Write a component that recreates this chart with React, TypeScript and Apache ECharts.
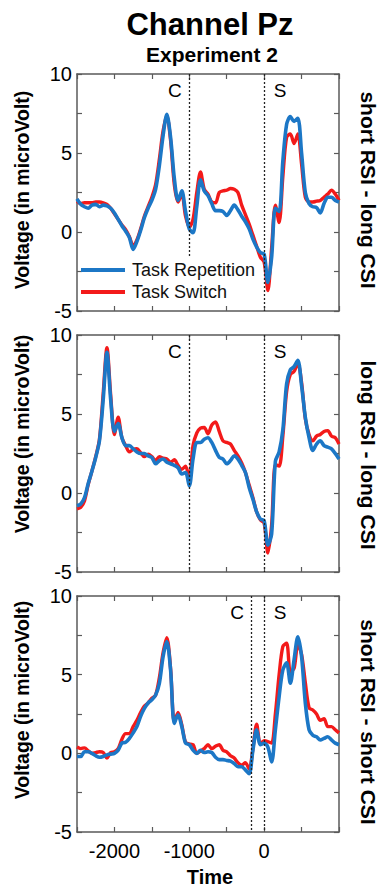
import React, { useEffect, useRef } from "react";
import * as echarts from "echarts";

// time axis (ms)
const times = [
  -2500, -2450, -2400, -2350, -2300, -2250, -2200, -2150, -2100, -2050,
  -2000, -1950, -1900, -1850, -1800, -1750, -1700, -1650, -1600, -1550,
  -1500, -1450, -1400, -1350, -1300, -1250, -1200, -1150, -1100, -1050,
  -1000, -950, -900, -850, -800, -750, -700, -650, -600, -550,
  -500, -450, -400, -350, -300, -250, -200, -150, -100, -50,
  0, 50, 100, 150, 200, 250, 300, 350, 400, 450,
  500, 550, 600, 650, 700, 750, 800, 850, 900, 950,
  1000,
];

// Panel 1: short RSI - long CSI
const p1Rep = [
  2.1, 1.75, 1.6, 1.5, 1.7, 1.75, 1.6, 1.7, 1.65, 1.5,
  1.2, 0.8, 0.4, 0.05, -0.35, -1.1, -0.6, 0.1, 0.9, 1.5,
  2.0, 2.7, 4.2, 6.1, 7.45, 6.0, 3.4, 2.0, 2.6, 1.3,
  0.2, -0.05, 1.6, 3.3, 2.6, 2.3, 1.8, 1.35, 1.35, 1.3,
  1.05, 1.35, 1.7, 1.4, 1.0, 0.65, 0.2, -0.45, -0.95, -1.3,
  -1.4, -3.2, -1.6, 1.5, 1.3, 4.5, 6.8, 7.3, 7.0, 7.2,
  5.0, 2.5, 1.8, 1.6, 1.55, 1.2, 1.8, 2.2, 2.2, 2.0,
  1.9,
];
const p1Sw = [
  1.95, 1.8, 1.85, 1.85, 1.85, 1.9, 1.9, 1.85, 1.75, 1.5,
  1.15, 0.8, 0.45, 0.15, -0.3, -0.85, -0.5, 0.2, 1.0, 1.6,
  2.2, 3.0, 4.6, 6.4, 7.35, 5.8, 3.0, 1.9, 2.4, 1.0,
  0.3, 0.8, 2.5, 3.8, 2.7, 2.4, 1.9, 1.85, 2.5, 2.6,
  2.65, 2.75, 2.7, 2.5, 1.7, 1.1, 0.5, -0.2, -0.9, -1.6,
  -1.9, -3.7, -1.0, 1.7, 0.6, 3.5, 6.0, 6.2, 5.6, 6.2,
  4.3, 2.2, 1.9, 1.9, 1.95, 2.0, 2.2, 2.4, 2.65, 2.4,
  2.0,
];

// Panel 2: long RSI - long CSI
const p2Rep = [
  -0.8, -0.7, -0.3, 0.6, 1.4, 2.25, 3.3, 5.9, 8.9, 5.9,
  3.9, 4.4, 3.5, 3.0, 3.0, 2.8, 2.6, 2.5, 2.5, 2.35,
  2.25, 1.85, 2.05, 2.15, 1.95, 1.85, 1.75, 1.6, 1.2, 1.3,
  0.45, 2.15, 3.2, 3.2, 3.4, 3.5, 3.2, 2.7, 2.25, 2.15,
  1.85, 2.05, 2.35, 2.15, 1.75, 1.3, 0.35, -0.4, -1.2, -1.65,
  -1.75, -3.3, -2.6, 2.0, 2.6, 4.0, 6.9, 7.8, 8.0, 8.4,
  6.8, 4.8, 3.5, 2.7, 3.1, 3.3, 3.0, 2.9, 2.8, 2.5,
  2.15,
];
const p2Sw = [
  -1.0, -0.9, -0.5, 0.55, 1.4, 2.3, 3.4, 6.3, 9.2, 6.2,
  3.7, 4.8, 3.5, 3.0, 2.6, 2.75, 2.8, 2.55, 2.3, 2.45,
  2.3, 2.05, 2.3, 2.2, 2.15, 1.95, 2.1, 1.75, 1.5, 1.7,
  0.9, 3.0, 3.8, 4.1, 4.15, 3.75, 4.3, 4.5, 3.9, 3.3,
  3.2, 3.1, 2.7, 2.35, 1.9, 1.3, 0.5, -0.3, -1.2, -1.7,
  -1.9, -3.8, -2.0, 1.8, 1.7, 3.6, 6.4, 7.5, 7.7, 8.2,
  7.0, 4.7, 3.7, 3.3, 3.6, 3.7, 3.9, 3.95, 3.6, 3.5,
  3.1,
];

// Panel 3: short RSI - short CSI
const p3Rep = [
  -0.2, -0.2, 0.1, 0.1, 0.0, -0.15, -0.25, -0.2, -0.1, -0.05,
  0.0, 0.2, 0.65, 0.7, 0.95, 1.3, 1.7, 2.35, 2.85, 3.2,
  3.4, 3.7, 4.45, 6.15, 7.1, 5.3, 1.9, 2.45, 1.7, 0.65,
  0.55, 0.2, 0.0, 0.2, 0.05, 0.1, 0.05, -0.25, -0.4, -0.4,
  -0.45, -0.5, -0.65, -0.85, -0.85, -1.05, -1.3, 0.2, 1.5, 0.55,
  0.65, 0.4, -0.55, 1.5, 3.6, 5.3, 5.75, 4.45, 5.95, 7.4,
  6.15, 3.2, 1.5, 1.15, 1.05, 0.85, 0.95, 1.05, 0.85, 0.65,
  0.55,
];
const p3Sw = [
  0.4, 0.3, 0.35, 0.15, 0.0, 0.05, 0.1, 0.05, -0.3, 0.05,
  0.1, 0.3, 0.9, 1.25, 1.25, 1.7, 2.1, 2.6, 3.0, 3.2,
  3.5, 3.7, 4.8, 6.4, 7.35, 5.4, 2.0, 2.6, 1.8, 0.7,
  0.6, 0.55, 0.0, 0.15, 0.3, 0.55, 0.3, 0.45, 0.55, 0.2,
  0.1, -0.15, -0.3, -0.6, -0.75, -0.6, -1.0, 0.3, 1.85, 0.6,
  0.8, 0.75, 0.65, 2.5, 5.0, 6.8, 7.0, 5.2, 5.4, 6.9,
  6.3, 4.5, 2.9, 2.75, 2.5, 2.1, 2.2, 1.7, 1.7, 1.5,
  1.3,
];

const repSeries = [p1Rep, p2Rep, p3Rep];
const swSeries = [p1Sw, p2Sw, p3Sw];
const panelLabels = ["short RSI - long CSI", "long RSI - long CSI", "short RSI - short CSI"];
const cueTimes = [-1000, -1000, -170];
const cueLineBottom = [-1.6, -5, -5];
const stimTime = 0;
const xTickLabels = [-2000, -1000, 0];
const yTickLabels = [-5, 0, 5, 10];
const legendNames = ["Task Repetition", "Task Switch"];
const titleText = "Channel Pz";
const subtitleText = "Experiment 2";
const yAxisTitle = "Voltage (in microVolt)";
const xAxisTitle = "Time";

const FONT = "'Liberation Sans', Arial, Helvetica, sans-serif";
const BLUE = "#1c77c6";
const RED = "#f31a1a";
const AXIS = "#5a5a5a";

const gridBoxes = [
  { top: 74, height: 237 },
  { top: 335, height: 237 },
  { top: 596, height: 236 },
];
const yLabelCenters = [190, 434, 700];
const rightLabelCenters = [190, 455, 722];

export default function App() {
  const ref = useRef<HTMLDivElement>(null);

  useEffect(() => {
    if (!ref.current) return;
    const chart = echarts.init(ref.current, null, { renderer: "svg" });

    const grids: any[] = [];
    const xAxes: any[] = [];
    const yAxes: any[] = [];
    const series: any[] = [];
    const graphics: any[] = [];

    gridBoxes.forEach((g, i) => {
      grids.push({ left: 77, width: 262, top: g.top, height: g.height, containLabel: false, outerBoundsMode: "none" });
      const axisLine = { show: true, onZero: false, lineStyle: { color: AXIS, width: 1.5 } };
      const axisTick = { show: true, inside: true, length: 5, lineStyle: { color: AXIS, width: 1.2 } };
      const baseX = {
        type: "value",
        gridIndex: i,
        min: -2500,
        max: 1000,
        interval: 500,
        splitLine: { show: false },
        axisLine,
        axisTick,
      };
      xAxes.push({
        ...baseX,
        position: "bottom",
        axisLabel: {
          show: i === 2,
          margin: 9,
          color: "#000",
          fontSize: 20,
          fontFamily: FONT,
          formatter: (v: number) => (xTickLabels.includes(v) ? String(v) : ""),
        },
      });
      xAxes.push({ ...baseX, position: "top", axisLabel: { show: false } });
      const baseY = {
        type: "value",
        gridIndex: i,
        min: -5,
        max: 10,
        interval: 2.5,
        splitLine: { show: false },
        axisLine,
        axisTick,
      };
      yAxes.push({
        ...baseY,
        position: "left",
        axisLabel: {
          show: true,
          margin: 5,
          color: "#000",
          fontSize: 20,
          fontFamily: FONT,
          formatter: (v: number) => (yTickLabels.includes(v) ? String(v) : ""),
        },
      });
      yAxes.push({ ...baseY, position: "right", axisLabel: { show: false } });

      const markLine = {
        silent: true,
        symbol: ["none", "none"],
        label: { show: false },
        lineStyle: { color: "#222", width: 1.3, type: [2, 2] },
        data: [
          [{ coord: [cueTimes[i], 10] }, { coord: [cueTimes[i], cueLineBottom[i]] }],
          [{ coord: [stimTime, 10] }, { coord: [stimTime, -5] }],
        ],
      };
      const markPoint = {
        silent: true,
        symbol: "circle",
        symbolSize: 1,
        itemStyle: { color: "rgba(0,0,0,0)" },
        data: [
          {
            coord: [cueTimes[i], 8.95],
            label: { show: true, formatter: "C", position: "left", distance: 7, color: "#000", fontSize: 19, fontFamily: FONT },
          },
          {
            coord: [stimTime, 8.95],
            label: { show: true, formatter: "S", position: "right", distance: 9, color: "#000", fontSize: 19, fontFamily: FONT },
          },
        ],
      };

      series.push({
        name: legendNames[1],
        type: "line",
        xAxisIndex: 2 * i,
        yAxisIndex: 2 * i,
        data: times.map((t, k) => [t, swSeries[i][k]]),
        showSymbol: false,
        symbol: "none",
        smooth: 0.3,
        lineStyle: { color: RED, width: 3.4 },
        itemStyle: { color: RED },
        markLine,
        markPoint,
        z: 2,
      });
      series.push({
        name: legendNames[0],
        type: "line",
        xAxisIndex: 2 * i,
        yAxisIndex: 2 * i,
        data: times.map((t, k) => [t, repSeries[i][k]]),
        showSymbol: false,
        symbol: "none",
        smooth: 0.3,
        lineStyle: { color: BLUE, width: 3.6 },
        itemStyle: { color: BLUE },
        z: 3,
      });

      graphics.push({
        type: "text",
        x: 22,
        y: yLabelCenters[i],
        rotation: Math.PI / 2,
        style: {
          text: yAxisTitle,
          align: "center",
          verticalAlign: "middle",
          fontSize: 19.5,
          fontWeight: "bold",
          fontFamily: FONT,
          fill: "#000",
        },
      });
      graphics.push({
        type: "text",
        x: 368,
        y: rightLabelCenters[i],
        rotation: -Math.PI / 2,
        style: {
          text: panelLabels[i],
          align: "center",
          verticalAlign: "middle",
          fontSize: 21,
          fontWeight: "bold",
          fontFamily: FONT,
          fill: "#000",
        },
      });
    });

    graphics.push({
      type: "text",
      x: 210,
      y: 24,
      style: { text: titleText, align: "center", verticalAlign: "middle", fontSize: 31, fontWeight: "bold", fontFamily: FONT, fill: "#000" },
    });
    graphics.push({
      type: "text",
      x: 212,
      y: 54,
      style: { text: subtitleText, align: "center", verticalAlign: "middle", fontSize: 21, fontWeight: "bold", fontFamily: FONT, fill: "#000" },
    });
    graphics.push({
      type: "text",
      x: 210,
      y: 877,
      style: { text: xAxisTitle, align: "center", verticalAlign: "middle", fontSize: 20, fontWeight: "bold", fontFamily: FONT, fill: "#000" },
    });

    chart.setOption({
      animation: false,
      backgroundColor: "#fff",
      grid: grids,
      xAxis: xAxes,
      yAxis: yAxes,
      series,
      legend: {
        data: legendNames,
        orient: "vertical",
        left: 81,
        top: 261,
        padding: 0,
        icon: "rect",
        itemWidth: 44,
        itemHeight: 4,
        itemGap: 4,
        selectedMode: false,
        textStyle: { fontSize: 18, lineHeight: 18, fontFamily: FONT, color: "#111", padding: [0, 0, 0, 2] },
      },
      graphic: graphics,
    });

    return () => chart.dispose();
  }, []);

  return (
    <div
      ref={ref}
      style={{ position: "absolute", left: 0, top: 0, width: 382, height: 890, background: "#fff" }}
    />
  );
}
